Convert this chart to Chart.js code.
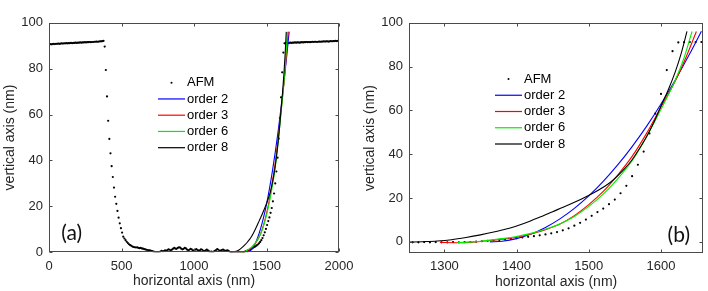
<!DOCTYPE html>
<html>
<head>
<meta charset="utf-8">
<script src="https://cdn.jsdelivr.net/npm/chart.js@4/dist/chart.umd.min.js"></script>
<style>
  html, body { margin: 0; padding: 0; background: #fff; }
  #wrap { position: relative; width: 708px; height: 291px; overflow: hidden; }
  canvas { position: absolute; top: 0; }
  #ca { left: 0; }
  #cb { left: 360px; }
</style>
</head>
<body>
<div id="wrap">
  <canvas id="ca" width="360" height="291"></canvas>
  <canvas id="cb" width="348" height="291"></canvas>
</div>
<script>
// AFM profile, sampled every 8 nm
const afmX = [
  0,8,16,24,32,40,48,56,64,72,80,88,96,104,112,120,128,136,144,152,160,168,176,184,192,
  200,208,216,224,232,240,248,256,264,272,280,288,296,304,312,320,328,336,344,352,360,368,376,384,392,
  400,408,416,424,432,440,448,456,464,472,480,488,496,504,512,520,528,536,544,552,560,568,576,584,592,
  600,608,616,624,632,640,648,656,664,672,680,688,696,704,712,720,728,736,744,752,760,768,776,784,792,
  800,808,816,824,832,840,848,856,864,872,880,888,896,904,912,920,928,936,944,952,960,968,976,984,992,
  1000,1008,1016,1024,1032,1040,1048,1056,1064,1072,1080,1088,1096,1104,1112,1120,1128,1136,1144,1152,1160,1168,1176,1184,1192,
  1200,1208,1216,1224,1232,1240,1248,1256,1264,1272,1280,1288,1296,1304,1312,1320,1328,1336,1344,1352,1360,1368,1376,1384,1392,
  1400,1408,1416,1424,1432,1440,1448,1456,1464,1472,1480,1488,1496,1504,1512,1520,1528,1536,1544,1552,1560,1568,1576,1584,1592,
  1600,1608,1616,1624,1632,1640,1648,1656,1664,1672,1680,1688,1696,1704,1712,1720,1728,1736,1744,1752,1760,1768,1776,1784,1792,
  1800,1808,1816,1824,1832,1840,1848,1856,1864,1872,1880,1888,1896,1904,1912,1920,1928,1936,1944,1952,1960,1968,1976,1984,1992,
  2000
];
const afmY = [
  90.6,90.7,90.6,90.7,90.8,90.7,90.8,90.8,90.9,90.8,
  90.9,91.0,90.9,91.0,91.0,91.1,91.0,91.1,91.1,91.2,
  91.1,91.2,91.2,91.3,91.2,91.3,91.3,91.4,91.3,91.4,
  91.4,91.5,91.4,91.5,91.5,91.6,91.5,91.6,91.6,91.7,
  91.7,91.8,91.7,91.8,91.9,91.9,92.0,92.1,
  89.6,79.4,67.9,57.3,49.4,43.1,37.5,32.8,28.2,24.2,
  21.1,18.0,15.1,12.6,10.5,8.6,6.8,6.0,5.3,4.6,
  4.0,3.5,3.1,2.8,2.5,2.3,2.2,2.1,2.2,1.9,
  1.8,1.9,1.7,1.6,1.4,1.3,1.1,1.0,0.9,0.8,
  0.6,0.5,0.3,0.2,0.0,-0.3,-0.4,-0.2,0.3,0.6,
  0.4,0.5,0.8,0.6,1.0,1.3,1.1,0.9,1.2,1.6,
  1.9,1.6,1.5,1.9,2.2,2.0,1.6,1.3,1.5,1.9,
  1.7,1.2,0.9,1.1,1.5,1.3,0.8,0.7,1.1,1.4,
  1.0,0.7,0.9,1.3,1.1,0.6,0.5,0.8,1.2,0.9,
  0.4,0.2,0.3,0.1,0.3,0.6,1.0,1.4,1.1,0.6,
  0.7,1.0,1.2,0.9,0.6,0.7,0.8,0.5,0.1,-0.2,
  -0.2,-0.1,-0.2,-0.1,-0.2,-0.2,-0.1,-0.2,-0.1,-0.1,
  0.1,0.3,0.5,0.7,0.9,1.1,1.4,1.7,2.0,2.3,
  2.6,3.0,3.4,3.9,4.5,5.3,6.2,7.4,8.7,10.2,
  11.9,13.6,15.2,17.2,19.3,22.2,25.6,30.0,35.2,41.2,
  49.5,58.5,67.5,78.4,87.0,
  91.0,91.1,91.2,91.1,91.2,91.3,91.2,91.3,91.3,91.4,
  91.3,91.4,91.4,91.3,91.4,91.5,91.4,91.5,91.5,91.6,
  91.5,91.6,91.5,91.6,91.7,91.6,91.7,91.7,91.6,91.7,
  91.8,91.7,91.8,91.8,91.9,91.8,91.9,91.9,91.8,91.9,
  92.0,91.9,92.0,92.0,92.1,92.0,92.1,92.1
];

// polynomial fits
const order2X = [1363,1380,1400,1420,1440,1460,1480,1500,1520,1540,1560,1580,1600,1620,1640,1656];
const order2Y = [0,0.3,1.5,3.6,6.6,10.5,15.3,21.0,27.6,35.1,43.5,52.7,62.9,74.0,85.9,96.1];
const order3X = [1294,1320,1340,1360,1380,1400,1420,1440,1460,1480,1500,1520,1540,1560,1580,1600,1620,1635,1649];
const order3Y = [-0.2,-0.4,-0.1,0.5,1.2,2.1,3.6,5.6,8.2,12.0,17.0,23.0,30.5,39.0,49.5,61.5,73.5,84.5,96.0];
const order6X = [1318,1340,1360,1380,1400,1420,1440,1460,1480,1500,1520,1540,1560,1580,1600,1620,1632,1643];
const order6Y = [-0.3,0.0,0.7,1.5,2.5,3.9,5.8,8.2,11.6,16.2,21.8,28.8,37.0,48.0,60.5,74.0,84.0,96.0];
const order8X = [1252,1270,1290,1310,1330,1350,1370,1390,1410,1430,1450,1470,1490,1510,1530,1550,1560,1570,1580,1590,1600,1610,1620,1628,1636];
const order8Y = [-0.1,0.1,0.4,1.0,2.0,3.2,4.6,6.2,8.4,11.0,13.8,16.6,19.6,23.0,27.2,33.5,37.5,42.5,48.0,54.5,62.0,69.3,77.8,86.0,96.0];

const xTicksA = [0,500,1000,1500,2000];
const xTicksB = [1300,1400,1500,1600];
const yTicks = [0,20,40,60,80,100];

const FONT = "'Liberation Sans', Arial, sans-serif";
const INK = '#262626';

const pairs = (xs, ys) => xs.map((x, i) => ({x: x, y: ys[i]}));

// frame with inward ticks, legend inside the axes, panel tag
const decor = {
  id: 'decor',
  afterDatasetsDraw(chart, args, o) {
    const {ctx, chartArea: a, scales} = chart;
    const L = Math.round(a.left) + 0.5, R = Math.round(a.right) - 0.5;
    const T = Math.round(a.top) + 0.5, B = Math.round(a.bottom) - 0.5;
    ctx.save();
    ctx.strokeStyle = '#4a4a4a';
    ctx.lineWidth = 1;
    ctx.strokeRect(L, T, R - L, B - T);
    ctx.beginPath();
    o.xTicks.forEach(v => {
      const p = Math.round(scales.x.getPixelForValue(v)) + 0.5;
      ctx.moveTo(p, B); ctx.lineTo(p, B - 3);
      ctx.moveTo(p, T); ctx.lineTo(p, T + 3);
    });
    yTicks.forEach(v => {
      const p = Math.round(scales.y.getPixelForValue(v)) + 0.5;
      ctx.moveTo(L, p); ctx.lineTo(L + 3, p);
      ctx.moveTo(R, p); ctx.lineTo(R - 3, p);
    });
    ctx.stroke();

    // legend
    ctx.font = '13px ' + FONT;
    ctx.textBaseline = 'middle';
    ctx.textAlign = 'left';
    chart.data.datasets.forEach((ds, i) => {
      const y = a.top + o.legY + i * 16.25;
      const x0 = a.left + o.legX, x1 = x0 + 27;
      if (ds.showLine) {
        ctx.strokeStyle = ds.borderColor;
        ctx.lineWidth = 1.2;
        ctx.beginPath(); ctx.moveTo(x0, y); ctx.lineTo(x1, y); ctx.stroke();
      } else {
        ctx.fillStyle = '#000';
        ctx.beginPath(); ctx.arc((x0 + x1) / 2, y, 1, 0, Math.PI * 2); ctx.fill();
      }
      ctx.fillStyle = '#000';
      ctx.fillText(ds.label, x1 + 2, y);
    });

    // panel tag
    ctx.font = '21px Lato, ' + FONT;
    ctx.textAlign = 'center';
    ctx.fillStyle = '#111';
    const tx = o.tagFromRight ? a.right - o.tagDX : a.left + o.tagDX;
    ctx.fillText(o.tag, tx, a.bottom - o.tagDY);
    ctx.restore();
  }
};

function makeChart(id, o) {
  const line = (label, xs, ys, color, order) => ({
    label: label, data: pairs(xs, ys), showLine: true, borderColor: color,
    backgroundColor: color, borderWidth: 1.1, pointRadius: 0,
    cubicInterpolationMode: 'monotone', order: order
  });
  return new Chart(document.getElementById(id), {
    type: 'scatter',
    data: {
      datasets: [
        { label: 'AFM', data: pairs(afmX, afmY), showLine: false, pointRadius: 1.1,
          pointBackgroundColor: '#000', pointBorderWidth: 0, order: 5 },
        line('order 2', order2X, order2Y, '#0000ff', 4),
        line('order 3', order3X, order3Y, '#ff0000', 3),
        line('order 6', order6X, order6Y, '#00ee00', 2),
        line('order 8', order8X, order8Y, '#000000', 1)
      ]
    },
    options: {
      responsive: false,
      animation: false,
      events: [],
      layout: { padding: { left: 0, top: 22.7, right: o.padR, bottom: 0 } },
      plugins: { legend: { display: false }, tooltip: { enabled: false }, decor: o },
      scales: {
        x: {
          type: 'linear', min: o.xMin, max: o.xMax,
          grid: { display: false, drawTicks: false }, border: { display: false },
          afterBuildTicks: s => { s.ticks = o.xTicks.map(v => ({value: v})); },
          afterFit: s => { s.height = o.xAxisH; },
          ticks: { padding: o.xPad, color: INK, font: { size: 13, family: FONT },
                   maxRotation: 0, autoSkip: false, callback: v => String(v) },
          title: { display: true, text: 'horizontal axis (nm)', color: INK,
                   font: { size: 14, family: FONT }, padding: { top: 0, bottom: o.titleB } }
        },
        y: {
          type: 'linear', min: o.yMin, max: 100,
          grid: { display: false, drawTicks: false }, border: { display: false },
          afterBuildTicks: s => { s.ticks = yTicks.map(v => ({value: v})); },
          afterFit: s => { s.width = 49; },
          ticks: { padding: 6, color: INK, font: { size: 13, family: FONT }, callback: v => String(v) },
          title: { display: true, text: 'vertical axis (nm)', color: INK,
                   font: { size: 14, family: FONT }, padding: { top: 2, bottom: 0 } }
        }
      }
    },
    plugins: [decor]
  });
}

makeChart('ca', {
  xMin: 0, xMax: 2000, yMin: 0, xTicks: xTicksA, padR: 15.7, xAxisH: 38.7, xPad: 6.5, titleB: 1.5,
  legX: 109, legY: 60, tag: '(a)', tagDX: 22.7, tagDY: 19.5, tagFromRight: false
});
makeChart('cb', {
  xMin: 1251, xMax: 1658.6, yMin: -5.2, xTicks: xTicksB, padR: 4.7, xAxisH: 37.7, xPad: 5.5, titleB: 0.5,
  legX: 86, legY: 56.3, tag: '(b)', tagDX: 24.5, tagDY: 18.5, tagFromRight: true
});
</script>
</body>
</html>
